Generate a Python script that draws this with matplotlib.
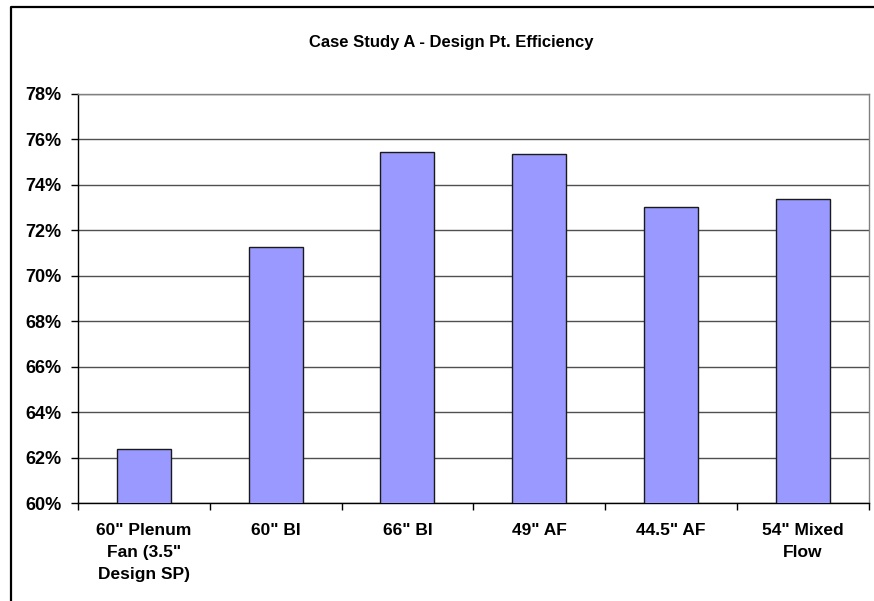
import matplotlib
matplotlib.use("Agg")
import matplotlib.pyplot as plt
from matplotlib.lines import Line2D
from matplotlib.ticker import FixedLocator, FuncFormatter

categories = ['60" Plenum\nFan (3.5"\nDesign SP)', '60" BI', '66" BI', '49" AF', '44.5" AF', '54" Mixed\nFlow']
efficiency = [62.38, 71.25, 75.47, 75.37, 73.03, 73.37]
y_ticks = [60, 62, 64, 66, 68, 70, 72, 74, 76, 78]
title = "Case Study A - Design Pt. Efficiency"

plt.rcParams['font.family'] = ['Liberation Sans', 'DejaVu Sans']

W, H = 874, 601
fig = plt.figure(figsize=(W / 100, H / 100), dpi=100)
fig.patch.set_facecolor('white')

left, right, top, bottom = 78, 868.5, 94, 503.3
ax = fig.add_axes([left / W, 1 - bottom / H, (right - left) / W, (bottom - top) / H])

x = list(range(len(categories)))
ax.bar(x, efficiency, width=0.41, color='#9999FF', edgecolor='#1a1a1a', linewidth=1.0, zorder=3)

ax.set_xlim(-0.5, len(categories) - 0.5)
ax.set_ylim(y_ticks[0], y_ticks[-1])
ax.set_yticks(y_ticks)
ax.yaxis.set_major_formatter(FuncFormatter(lambda v, p: f"{v:.0f}%"))
ax.yaxis.grid(True, color='#505050', linewidth=1.0, zorder=1)
ax.set_axisbelow(True)

ax.set_xticks(x)
ax.set_xticklabels(categories, fontsize=12.5, fontweight='bold', linespacing=1.6)
ax.xaxis.set_minor_locator(FixedLocator([i - 0.5 for i in range(len(categories) + 1)]))
ax.tick_params(axis='x', which='major', length=0, pad=14)
ax.tick_params(axis='x', which='minor', length=5, width=1, color='black', direction='out')
ax.tick_params(axis='y', which='major', length=5, width=1, color='black', direction='out', pad=7,
               labelsize=13)
for lab in ax.get_yticklabels():
    lab.set_fontweight('bold')

ax.spines['left'].set_color('black')
ax.spines['bottom'].set_color('black')
ax.spines['top'].set_color('#808080')
ax.spines['right'].set_color('#808080')
for s in ax.spines.values():
    s.set_linewidth(1.0)

fig.text(451 / W, 1 - 47 / H, title, ha='center', va='baseline', fontsize=12, fontweight='bold')

# outer chart frame (left and top edges visible)
fig.add_artist(Line2D([11 / W, 11 / W, 1.01], [-0.01, 1 - 7 / H, 1 - 7 / H],
                      transform=fig.transFigure, color='black', linewidth=1.6))

fig.savefig('out.png', dpi=100, facecolor='white')
